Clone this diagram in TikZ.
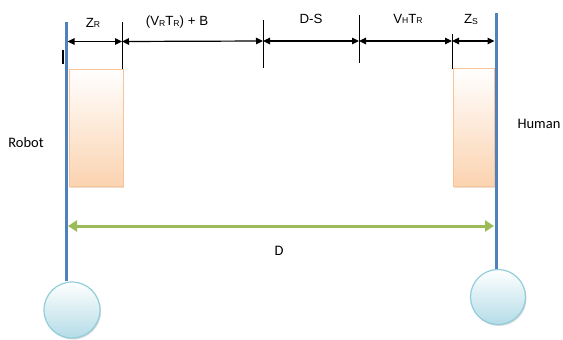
\documentclass[tikz,border=0pt]{standalone}
\usepackage{fontspec}
\setmainfont{Liberation Sans}
\newfontfamily\calib{Carlito}
\usetikzlibrary{arrows.meta,shadows}
\definecolor{poleblue}{HTML}{4F81BD}
\definecolor{peachfill}{HTML}{FBD3B0}
\definecolor{peachline}{HTML}{F9C497}
\definecolor{ballfill}{HTML}{B4DCE7}
\definecolor{ballline}{HTML}{92CDDC}
\definecolor{dgreen}{HTML}{9BBB59}
\newcommand\lsub[1]{\raisebox{-0.6pt}{\fontsize{8.6}{9}\selectfont #1}}
\tikzset{
  peachbox/.style={draw=peachline, line width=1.1pt, top color=white, bottom color=peachfill,
    inner sep=0pt, anchor=north west,
    drop shadow={opacity=0.35, shadow xshift=0.5pt, shadow yshift=-1.5pt, fill=peachline!80!black}},
  ball/.style={circle, draw=ballline, line width=1.2pt, top color=white, bottom color=ballfill,
    inner sep=0pt, drop shadow={opacity=0.3, shadow xshift=1pt, shadow yshift=-1.5pt}},
  pole/.style={draw=poleblue, line width=3pt},
  tick/.style={draw=black, line width=0.8pt},
  dim/.style={draw=black, line width=1.2pt, {Triangle[length=7pt,width=6.5pt]}-{Triangle[length=7pt,width=6.5pt]}},
  bigarrow/.style={draw=dgreen, line width=3pt, {Triangle[length=9pt,width=11pt]}-{Triangle[length=9pt,width=11pt]}},
  dimlabel/.style={font=\fontsize{13.3}{15}\selectfont, inner sep=0pt},
  sidelabel/.style={font=\calib\fontsize{14.5}{16}\selectfont, inner sep=0pt}
}
\begin{document}
\begin{tikzpicture}[x=1pt,y=-1pt]
\useasboundingbox (0,0) rectangle (563,340);

% orange zones
\node[peachbox, minimum width=54pt, minimum height=117pt] (rzone) at (68.5,69) {};
\node[peachbox, minimum width=41pt, minimum height=118pt] (hzone) at (453,67.5) {};

% balls
\node[ball, minimum size=56pt] (rball) at (72,310) {};
\node[ball, minimum size=55pt] (hball) at (498,297) {};

% poles
\coordinate (rtop) at (66,22);
\coordinate (htop) at (496,13);
\draw[pole] (rtop) -- (rtop |- rball.north);
\draw[pole] (htop) -- (htop |- hball.north);

% tick lines
\coordinate (t1a) at (122,22);  \coordinate (t1b) at (122,69);
\coordinate (t2a) at (263,20);  \coordinate (t2b) at (263,68);
\coordinate (t3a) at (359,15);  \coordinate (t3b) at (359,63);
\coordinate (t4a) at (452,34);  \coordinate (t4b) at (452,69);
\draw[tick] (t1a) -- (t1b);
\draw[tick] (t2a) -- (t2b);
\draw[tick] (t3a) -- (t3b);
\draw[tick] (t4a) -- (t4b);

% small cursor mark
\coordinate (ma) at (63,50); \coordinate (mb) at (63,64);
\draw[black, line width=1.4pt] (ma) -- (mb);

% dimension arrows
\coordinate (d0) at (67.5,41.5);
\coordinate (d1) at (122,41.5);
\coordinate (d2) at (263,41);
\coordinate (d3) at (359,41);
\coordinate (d4) at (452,41);
\coordinate (d5) at (494.5,41);
\draw[dim] (d0) -- (d1);
\draw[dim] (d1) -- (d2);
\draw[dim] (d2) -- (d3);
\draw[dim] (d3) -- (d4);
\draw[dim] (d4) -- (d5);

% dimension labels
\node[dimlabel] (lzr) at (93,23) {Z\lsub{R}};
\node[dimlabel] (lvr) at (177,22.5) {(V\lsub{R}T\lsub{R}) + B};
\node[dimlabel] (lds) at (311,19) {D-S};
\node[dimlabel] (lvh) at (408,19) {V\lsub{H}T\lsub{R}};
\node[dimlabel] (lzs) at (471,19.5) {Z\lsub{S}};

% side labels
\node[sidelabel] (lrobot) at (26,143) {Robot};
\node[sidelabel] (lhuman) at (539,124) {Human};

% distance D
\coordinate (g0) at (68,226);
\coordinate (g1) at (494,226);
\draw[bigarrow] (g0) -- (g1);
\node[sidelabel] (ld) at (279,251) {D};
\end{tikzpicture}
\end{document}
